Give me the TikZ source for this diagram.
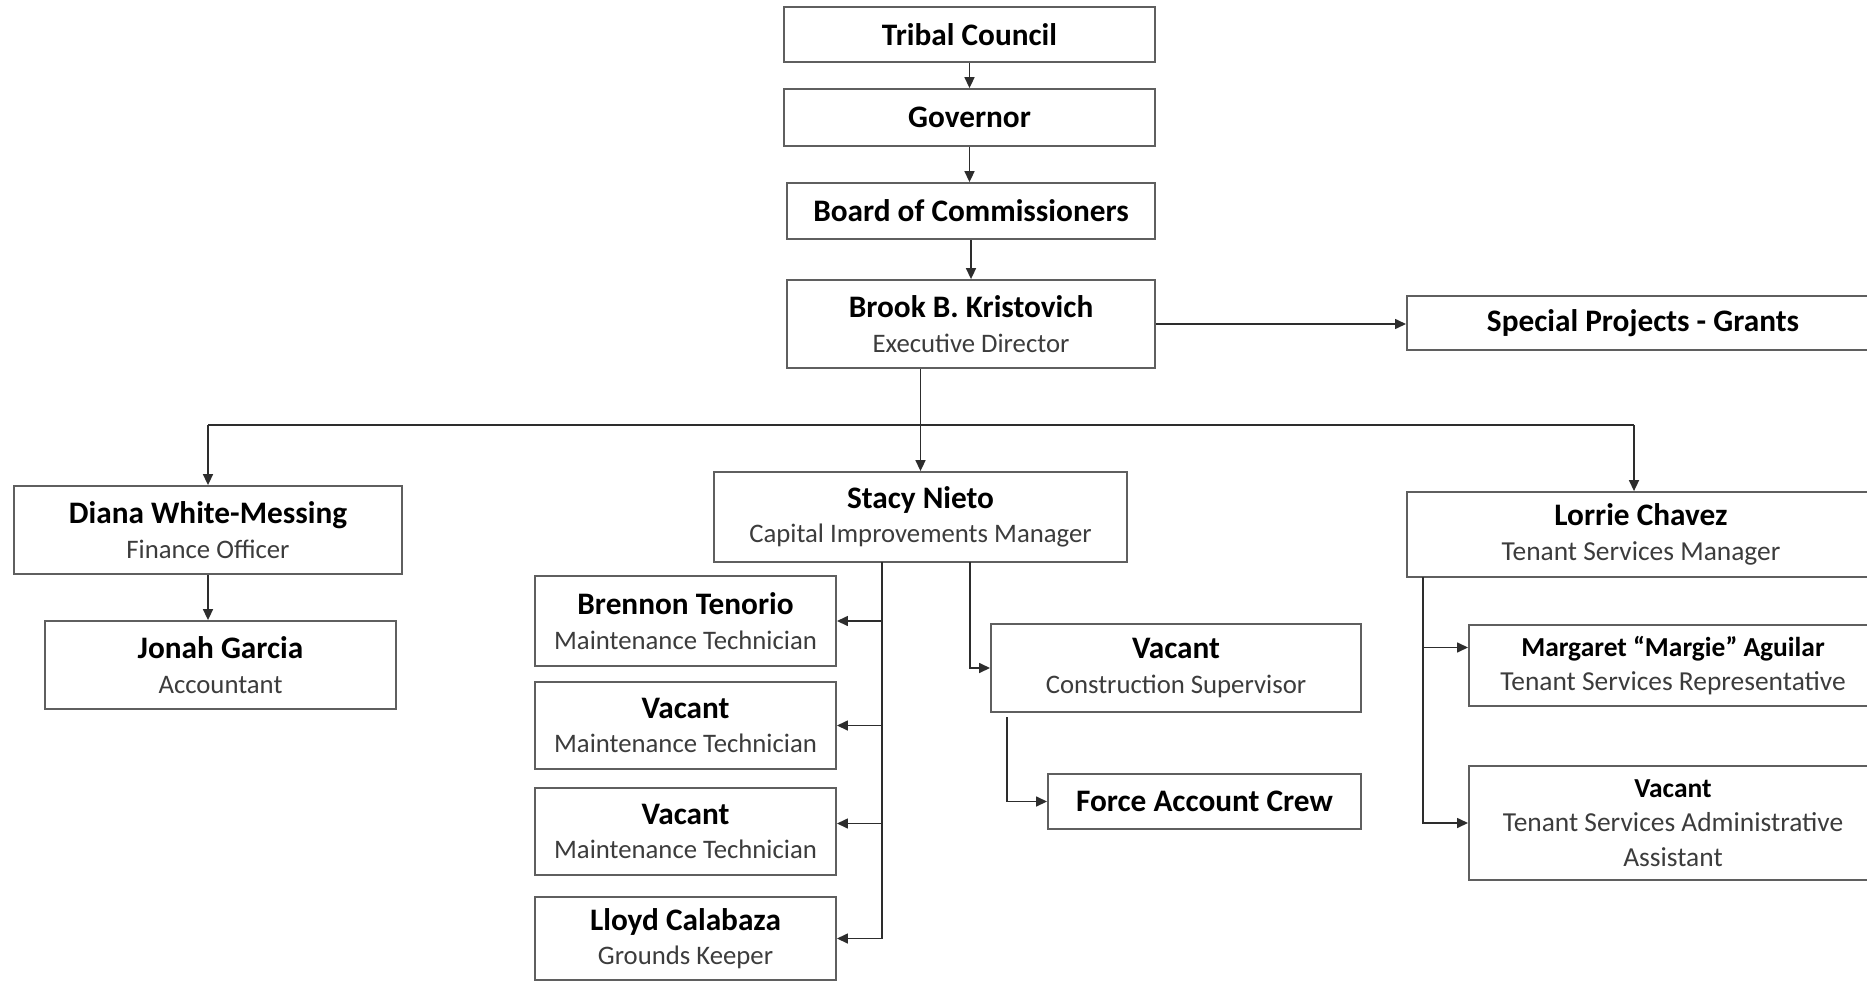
\documentclass[tikz,border=0pt]{standalone}
\usepackage{fontspec}
\setmainfont{Carlito}
\usepackage{tikz}
\usetikzlibrary{arrows.meta, positioning, calc}
\definecolor{mydark}{RGB}{45,45,45}
\definecolor{myframe}{RGB}{95,95,95}
\definecolor{mysub}{RGB}{60,60,60}
\newcommand{\nm}[1]{{\fontsize{8.9}{9.8}\selectfont\bfseries\color{black}#1}}
\newcommand{\nms}[1]{{\fontsize{7.8}{9.8}\selectfont\bfseries\color{black}#1}}
\tikzset{
  box/.style={rectangle, draw=myframe, fill=white, line width=0.5pt, text=mysub,
    align=center, inner sep=0pt, font=\fontsize{7.6}{9.8}\selectfont},
  rbox/.style={box, font=\fontsize{7.8}{9.8}\selectfont},
  arrow/.style={-{Triangle[length=0.11cm,width=0.1cm]}, line width=0.45pt, color=mydark},
  line/.style={line width=0.45pt, color=mydark}
}
\begin{document}
\begin{tikzpicture}[x=0.01cm, y=-0.01cm]
  \useasboundingbox (0,0) rectangle (1867,982);
  \clip (0,0) rectangle (1867,982);
  % top of the chain
  \node[box, minimum width=3.71cm, minimum height=0.55cm] (council) at (969.5,34.5) {\nm{Tribal Council}};
  \node[box, minimum width=3.71cm, minimum height=0.57cm] (governor) at (969.5,117.5) {\nm{Governor}};
  \node[box, minimum width=3.68cm, minimum height=0.56cm] (board) at (971,211) {\nm{Board of Commissioners}};
  \node[box, minimum width=3.68cm, minimum height=0.88cm] (director) at (971,324) {\nm{Brook B. Kristovich}\\Executive Director};
  \node[rbox, minimum width=4.72cm, minimum height=0.54cm] (grants) at (1643,323) {\nm{Special Projects - Grants}};
  % managers
  \node[box, minimum width=3.88cm, minimum height=0.88cm] (finance) at (208,530) {\nm{Diana White-Messing}\\Finance Officer};
  \node[box, minimum width=3.51cm, minimum height=0.88cm] (accountant) at (220.5,665) {\nm{Jonah Garcia}\\Accountant};
  \node[box, minimum width=4.13cm, minimum height=0.90cm] (capital) at (920.5,517) {\nm{Stacy Nieto}\\Capital Improvements Manager};
  \node[rbox, minimum width=4.68cm, minimum height=0.85cm] (tenant) at (1641,534.5) {\nm{Lorrie Chavez}\\Tenant Services Manager};
  % maintenance column
  \node[box, minimum width=3.01cm, minimum height=0.90cm] (tech1) at (685.5,621) {\nm{Brennon Tenorio}\\Maintenance Technician};
  \node[box, minimum width=3.01cm, minimum height=0.87cm] (tech2) at (685.5,725.5) {\nm{Vacant}\\Maintenance Technician};
  \node[box, minimum width=3.01cm, minimum height=0.87cm] (tech3) at (685.5,831.5) {\nm{Vacant}\\Maintenance Technician};
  \node[box, minimum width=3.01cm, minimum height=0.83cm] (grounds) at (685.5,938.5) {\nm{Lloyd Calabaza}\\Grounds Keeper};
  % construction
  \node[box, minimum width=3.70cm, minimum height=0.88cm] (construction) at (1176,668) {\nm{Vacant}\\Construction Supervisor};
  \node[box, minimum width=3.13cm, minimum height=0.55cm] (crew) at (1204.5,801.5) {\nm{Force Account Crew}};
  % tenant services
  \node[rbox, minimum width=4.08cm, minimum height=0.81cm] (rep) at (1673,665.5) {\nms{Margaret “Margie” Aguilar}\\Tenant Services Representative};
  \node[rbox, minimum width=4.08cm, minimum height=1.14cm] (assistant) at (1673,823) {\nms{Vacant}\\Tenant Services Administrative\\Assistant};

  % junction points
  \coordinate (bus) at (921,425);
  \coordinate (tbus) at (1634,425);
  \coordinate (mspine) at (882,562);
  \coordinate (cspine) at (970,562);
  \coordinate (fspine) at (1007,717);
  \coordinate (tspine) at (1423,577);

  % chain of command
  \draw[arrow] (council) -- (governor);
  \draw[arrow] (governor.south) -- (governor.south |- board.north);
  \draw[arrow] (board) -- (director);
  \draw[arrow] (director.east) -- (grants.west |- director.east);
  \draw[arrow] (director.south -| capital.north) -- (capital.north);
  \draw[line] (finance.north |- bus) -- (tbus);
  \draw[arrow] (finance.north |- bus) -- (finance.north);
  \draw[arrow] (tbus) -- (tbus |- tenant.north);
  \draw[arrow] (finance.south) -- (finance.south |- accountant.north);
  % maintenance branch
  \draw[line] (mspine) -- (mspine |- grounds.east);
  \draw[arrow] (mspine |- tech1.east) -- (tech1.east);
  \draw[arrow] (mspine |- tech2.east) -- (tech2.east);
  \draw[arrow] ([yshift=0.08cm]tech3.east -| mspine) -- ([yshift=0.08cm]tech3.east);
  \draw[arrow] (mspine |- grounds.east) -- (grounds.east);
  % construction branch
  \draw[arrow] (cspine) |- (construction.west);
  \draw[arrow] (fspine) |- (crew.west);
  % tenant branch
  \draw[arrow] (tspine) |- ([yshift=0.18cm]rep.west);
  \draw[arrow] (tspine) |- (assistant.west);
\end{tikzpicture}
\end{document}
